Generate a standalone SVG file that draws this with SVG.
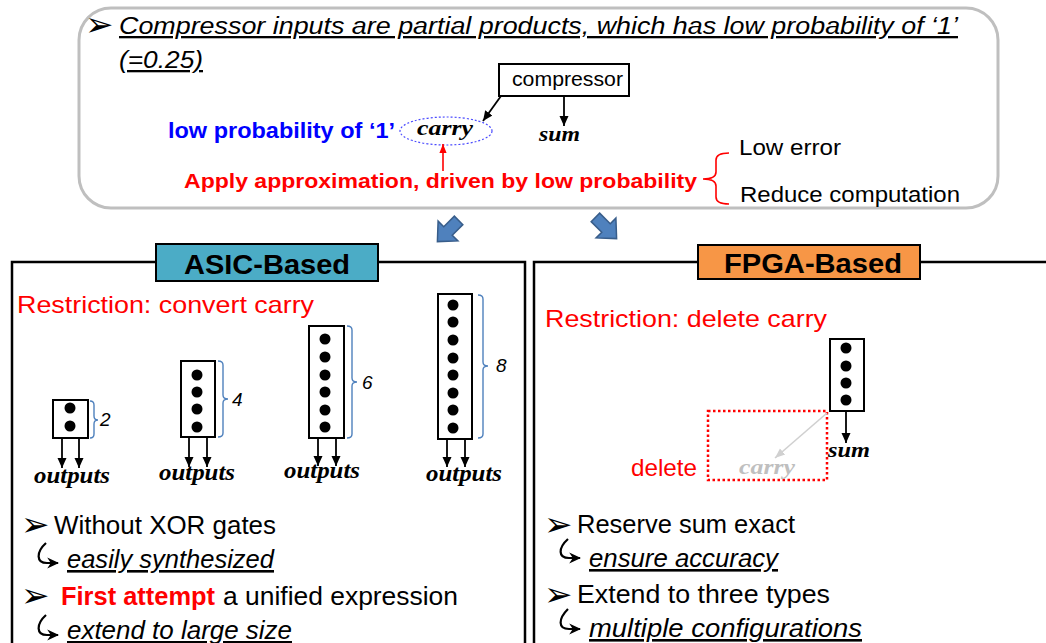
<svg xmlns="http://www.w3.org/2000/svg" width="1046" height="643" viewBox="0 0 1046 643">
  <defs>
    <style>
      .sans{font-family:"Liberation Sans",Arial,sans-serif}
      .math{font-family:"Liberation Serif","DejaVu Serif",serif;font-weight:bold;font-style:italic}
      .body{font-size:26px;fill:#000}
      .red{fill:#ff0000}
      .ul{text-decoration:underline}
      .cell{fill:#fff;stroke:#000;stroke-width:2}
      .brace{fill:none;stroke:#4f81bd;stroke-width:1.4}
      .wire{stroke:#000;stroke-width:1.8;fill:none}
      .bul{font-family:"DejaVu Sans",sans-serif;font-size:34px;fill:#000}
      .hook{fill:none;stroke:#000;stroke-width:2.2}
      .num{font-family:"Liberation Sans",Arial,sans-serif;font-style:italic;font-size:19px;fill:#000}
      .panel{fill:none;stroke:#000;stroke-width:2.5}
      .blk{fill:#4f81bd;stroke:#385d8a;stroke-width:1.5}
    </style>
    <marker id="ah" markerUnits="userSpaceOnUse" markerWidth="10" markerHeight="10" viewBox="0 0 10 10" refX="10" refY="5" orient="auto">
      <path d="M0,0.5 L10,5 L0,9.5 Z" fill="#000"/>
    </marker>
    <marker id="ahRed" markerUnits="userSpaceOnUse" markerWidth="9" markerHeight="9" viewBox="0 0 10 10" refX="10" refY="5" orient="auto">
      <path d="M0,1 L10,5 L0,9 Z" fill="#ff0000"/>
    </marker>
    <marker id="ahGray" markerUnits="userSpaceOnUse" markerWidth="10" markerHeight="10" viewBox="0 0 10 10" refX="10" refY="5" orient="auto">
      <path d="M0,1 L10,5 L0,9 Z" fill="#d0d0d0"/>
    </marker>
    <marker id="ahHook" markerUnits="userSpaceOnUse" markerWidth="12" markerHeight="12" viewBox="0 0 10 10" refX="9" refY="5" orient="auto">
      <path d="M0,0.5 L10,5 L0,9.5 L3,5 Z" fill="#000"/>
    </marker>
    <path id="blkArrow" class="blk" d="M -15,-6 L 0,-6 L 0,-14 L 15,0 L 0,14 L 0,6 L -15,6 Z"/>
  </defs>

  <rect width="1046" height="643" fill="#fff"/>

  <!-- summary box -->
  <g id="summary">
    <rect x="79" y="8" width="919" height="200" rx="32" ry="32" fill="#fff" stroke="#bfbfbf" stroke-width="3"/>
    <text class="bul" x="85" y="36">➢</text>
    <text class="sans ul" x="119" y="34" font-size="23" font-style="italic" fill="#000" textLength="839" lengthAdjust="spacingAndGlyphs">Compressor inputs are partial products, which has low probability of ‘1’</text>
    <text class="sans ul" x="119" y="68" font-size="23" font-style="italic" fill="#000" textLength="84" lengthAdjust="spacingAndGlyphs">(=0.25)</text>
  </g>

  <g id="compressor">
    <rect x="499" y="64" width="130" height="32" fill="#fff" stroke="#000" stroke-width="2"/>
    <text class="sans" x="512" y="86" font-size="21" fill="#000" textLength="111" lengthAdjust="spacingAndGlyphs">compressor</text>
  </g>

  <g id="carry-top">
    <ellipse cx="446" cy="131" rx="46" ry="14" fill="none" stroke="#4a4aff" stroke-width="1.2" stroke-dasharray="2 2"/>
    <text class="math" x="417" y="135" font-size="20" fill="#000" textLength="56" lengthAdjust="spacingAndGlyphs">carry</text>
  </g>

  <g id="sum-top">
    <text class="math" x="539" y="141" font-size="20" fill="#000" textLength="41" lengthAdjust="spacingAndGlyphs">sum</text>
  </g>

  <g id="low-prob">
    <text class="sans" x="168" y="138" font-size="22" font-weight="bold" fill="#0000ff" textLength="227" lengthAdjust="spacingAndGlyphs">low probability of ‘1’</text>
  </g>

  <g id="approx">
    <text class="sans red" x="184" y="188" font-size="21" font-weight="bold" textLength="513" lengthAdjust="spacingAndGlyphs">Apply approximation, driven by low probability</text>
    <path d="M 729,153 Q 716,153 716,160 L 716,172 Q 716,179 703,179 Q 716,179 716,186 L 716,197 Q 716,204 729,204" fill="none" stroke="#ff0000" stroke-width="1.6"/>
    <text class="sans" x="739" y="155" font-size="22" fill="#000" textLength="102" lengthAdjust="spacingAndGlyphs">Low error</text>
    <text class="sans" x="740" y="202" font-size="22" fill="#000" textLength="220" lengthAdjust="spacingAndGlyphs">Reduce computation</text>
  </g>

  <!-- block arrows leading to the two panels -->
  <g id="split-arrows">
    <use href="#blkArrow" transform="translate(448,231) rotate(135)"/>
    <use href="#blkArrow" transform="translate(606,228) rotate(45)"/>
  </g>

  <!-- ASIC panel -->
  <g id="asic-panel">
    <path class="panel" d="M 12,650 V 262 H 525 V 650"/>
    <rect x="156" y="244" width="222" height="37" fill="#4bacc6" stroke="#000" stroke-width="2"/>
    <text class="sans" x="267" y="274" font-size="28" font-weight="bold" fill="#000" text-anchor="middle" textLength="166" lengthAdjust="spacingAndGlyphs">ASIC-Based</text>
    <text class="sans red" x="17" y="313" font-size="24" textLength="297" lengthAdjust="spacingAndGlyphs">Restriction: convert carry</text>
  </g>

  <g id="asic-2">
    <rect class="cell" x="53" y="400" width="35" height="38"/>
    <circle cx="70" cy="408" r="5.5"/><circle cx="70" cy="426" r="5.5"/>
    <path class="brace" d="M 90,401 Q 94,401 94,405 L 94,416 Q 94,420 98,420 Q 94,420 94,424 L 94,434 Q 94,438 90,438"/>
    <text class="num" x="100" y="426">2</text>
    <text class="math" x="34" y="483" font-size="24" fill="#000" textLength="76" lengthAdjust="spacingAndGlyphs">outputs</text>
  </g>

  <g id="asic-4">
    <rect class="cell" x="181" y="361" width="34" height="76"/>
    <circle cx="197" cy="375" r="5.5"/><circle cx="197" cy="392" r="5.5"/><circle cx="197" cy="409" r="5.5"/><circle cx="197" cy="427" r="5.5"/>
    <path class="brace" d="M 218,361 Q 223,361 223,365 L 223,395 Q 223,399 228,399 Q 223,399 223,403 L 223,433 Q 223,437 218,437"/>
    <text class="num" x="232" y="406">4</text>
    <text class="math" x="159" y="480" font-size="24" fill="#000" textLength="76" lengthAdjust="spacingAndGlyphs">outputs</text>
  </g>

  <g id="asic-6">
    <rect class="cell" x="309" y="326" width="35" height="112"/>
    <circle cx="325" cy="339" r="5.5"/><circle cx="325" cy="357" r="5.5"/><circle cx="325" cy="375" r="5.5"/><circle cx="325" cy="392" r="5.5"/><circle cx="325" cy="410" r="5.5"/><circle cx="325" cy="427" r="5.5"/>
    <path class="brace" d="M 347,326 Q 352,326 352,330 L 352,378 Q 352,382 357,382 Q 352,382 352,386 L 352,434 Q 352,438 347,438"/>
    <text class="num" x="362" y="389">6</text>
    <text class="math" x="284" y="478" font-size="24" fill="#000" textLength="76" lengthAdjust="spacingAndGlyphs">outputs</text>
  </g>

  <g id="asic-8">
    <rect class="cell" x="438" y="294" width="34" height="145"/>
    <circle cx="453" cy="305" r="5.5"/><circle cx="453" cy="322" r="5.5"/><circle cx="453" cy="340" r="5.5"/><circle cx="453" cy="358" r="5.5"/><circle cx="453" cy="375" r="5.5"/><circle cx="453" cy="393" r="5.5"/><circle cx="453" cy="410" r="5.5"/><circle cx="453" cy="428" r="5.5"/>
    <path class="brace" d="M 478,295 Q 483,295 483,299 L 483,362 Q 483,366 488,366 Q 483,366 483,370 L 483,434 Q 483,438 478,438"/>
    <text class="num" x="496" y="372">8</text>
    <text class="math" x="426" y="481" font-size="24" fill="#000" textLength="76" lengthAdjust="spacingAndGlyphs">outputs</text>
  </g>

  <g id="asic-notes">
    <text class="bul" x="21" y="536">➢</text>
    <text class="sans body" x="54" y="534" textLength="222" lengthAdjust="spacingAndGlyphs">Without XOR gates</text>
    <path class="hook" d="M 46,543 C 36,552 36,563 47,563 L 58,563" marker-end="url(#ahHook)"/>
    <text class="sans body ul" x="67" y="568" font-style="italic" textLength="207" lengthAdjust="spacingAndGlyphs">easily synthesized</text>
    <text class="bul" x="21" y="607">➢</text>
    <text class="sans body red" x="61" y="605" font-weight="bold" textLength="154" lengthAdjust="spacingAndGlyphs">First attempt</text>
    <text class="sans body" x="223" y="605" textLength="235" lengthAdjust="spacingAndGlyphs">a unified expression</text>
    <path class="hook" d="M 46,615 C 36,624 36,635 47,635 L 58,635" marker-end="url(#ahHook)"/>
    <text class="sans body ul" x="67" y="639" font-style="italic" textLength="225" lengthAdjust="spacingAndGlyphs">extend to large size</text>
  </g>

  <!-- FPGA panel -->
  <g id="fpga-panel">
    <path class="panel" d="M 534,650 V 262 H 1050"/>
    <rect x="698" y="245" width="222" height="34" fill="#f79646" stroke="#000" stroke-width="2"/>
    <text class="sans" x="813" y="273" font-size="28" font-weight="bold" fill="#000" text-anchor="middle" textLength="178" lengthAdjust="spacingAndGlyphs">FPGA-Based</text>
    <text class="sans red" x="545" y="327" font-size="24" textLength="282" lengthAdjust="spacingAndGlyphs">Restriction: delete carry</text>
  </g>

  <g id="fpga-4">
    <rect class="cell" x="830" y="339" width="34" height="72"/>
    <circle cx="846" cy="348" r="5.5"/><circle cx="846" cy="366" r="5.5"/><circle cx="846" cy="383" r="5.5"/><circle cx="846" cy="400" r="5.5"/>
    <text class="math" x="828" y="457" font-size="20" fill="#000" textLength="42" lengthAdjust="spacingAndGlyphs">sum</text>
  </g>

  <g id="fpga-deleted">
    <rect x="708" y="411" width="119" height="69" fill="none" stroke="#ff0000" stroke-width="2.5" stroke-dasharray="2.5 2.5"/>
    <text class="math" x="739" y="474" font-size="20" fill="#bfbfbf" textLength="56" lengthAdjust="spacingAndGlyphs">carry</text>
    <text class="sans red" x="631" y="476" font-size="24" textLength="66" lengthAdjust="spacingAndGlyphs">delete</text>
  </g>

  <g id="fpga-notes">
    <text class="bul" x="544" y="536">➢</text>
    <text class="sans body" x="577" y="533" textLength="218" lengthAdjust="spacingAndGlyphs">Reserve sum exact</text>
    <path class="hook" d="M 568,539 C 558,548 558,558 569,558 L 580,558" marker-end="url(#ahHook)"/>
    <text class="sans body ul" x="589" y="567" font-style="italic" textLength="189" lengthAdjust="spacingAndGlyphs">ensure accuracy</text>
    <text class="bul" x="544" y="606">➢</text>
    <text class="sans body" x="577" y="603" textLength="253" lengthAdjust="spacingAndGlyphs">Extend to three types</text>
    <path class="hook" d="M 568,609 C 558,619 558,629 569,629 L 580,629" marker-end="url(#ahHook)"/>
    <text class="sans body ul" x="589" y="637" font-style="italic" textLength="273" lengthAdjust="spacingAndGlyphs">multiple configurations</text>
  </g>

  <!-- connectors -->
  <g id="connectors">
    <line class="wire" x1="501" y1="96" x2="483" y2="121" marker-end="url(#ah)"/>
    <line class="wire" x1="564" y1="96" x2="564" y2="126" marker-end="url(#ah)"/>
    <line x1="443" y1="171" x2="443" y2="144" stroke="#ff0000" stroke-width="1.6" marker-end="url(#ahRed)"/>

    <line class="wire" x1="62" y1="438" x2="62" y2="468" marker-end="url(#ah)"/>
    <line class="wire" x1="79" y1="438" x2="79" y2="468" marker-end="url(#ah)"/>
    <line class="wire" x1="189" y1="437" x2="189" y2="467" marker-end="url(#ah)"/>
    <line class="wire" x1="207" y1="437" x2="207" y2="467" marker-end="url(#ah)"/>
    <line class="wire" x1="318" y1="438" x2="318" y2="466" marker-end="url(#ah)"/>
    <line class="wire" x1="336" y1="438" x2="336" y2="466" marker-end="url(#ah)"/>
    <line class="wire" x1="447" y1="439" x2="447" y2="467" marker-end="url(#ah)"/>
    <line class="wire" x1="465" y1="439" x2="465" y2="467" marker-end="url(#ah)"/>

    <line class="wire" x1="846" y1="411" x2="846" y2="443" marker-end="url(#ah)"/>
    <line x1="827" y1="413" x2="775" y2="458" stroke="#d0d0d0" stroke-width="1.6" marker-end="url(#ahGray)"/>
  </g>
</svg>
